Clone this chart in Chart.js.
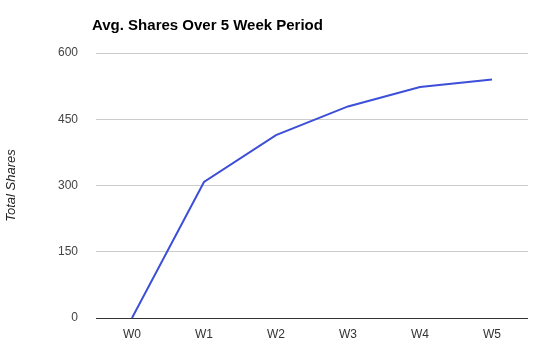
<!DOCTYPE html>
<html>
<head>
<meta charset="utf-8">
<script src="https://cdn.jsdelivr.net/npm/chart.js@4"></script>
<style>
  html, body { margin: 0; padding: 0; background: #fff; }
  .chart-box { width: 549px; height: 360px; }
</style>
</head>
<body>
<div class="chart-box">
  <canvas id="sharesChart" width="549" height="360"></canvas>
</div>
<script>
const weeks = ['W0', 'W1', 'W2', 'W3', 'W4', 'W5'];
const avgShares = [0, 308, 414, 479, 523, 540];
const yTicks = [0, 150, 300, 450, 600];
const chartTitle = 'Avg. Shares Over 5 Week Period';
const yAxisTitle = 'Total Shares';

// draws the bold title at the top left of the plot
const titlePlugin = {
  id: 'leftTitle',
  afterDraw(chart) {
    const ctx = chart.ctx;
    ctx.save();
    ctx.font = 'bold 15px "Liberation Sans", Arial, sans-serif';
    ctx.fillStyle = '#000';
    ctx.textBaseline = 'alphabetic';
    ctx.textAlign = 'left';
    ctx.fillText(chartTitle, chart.chartArea.left - 4, 30);
    ctx.restore();
  }
};

const ctx = document.getElementById('sharesChart').getContext('2d');
new Chart(ctx, {
  type: 'line',
  data: {
    labels: weeks,
    datasets: [{
      label: 'Avg. Shares',
      data: avgShares,
      borderColor: '#3d4fd8',
      backgroundColor: '#3d4fd8',
      borderWidth: 2,
      tension: 0,
      pointRadius: 0,
      fill: false
    }]
  },
  options: {
    responsive: false,
    animation: false,
    layout: { padding: { top: 53, right: 21, left: 0, bottom: 0 } },
    plugins: {
      legend: { display: false },
      tooltip: { enabled: false }
    },
    scales: {
      x: {
        offset: true,
        grid: { display: false, drawTicks: false },
        border: { display: false },
        ticks: {
          color: '#333',
          padding: 9,
          font: { family: '"Liberation Sans", Arial, sans-serif', size: 12 }
        },
        afterFit(scale) { scale.height = 42; }
      },
      y: {
        min: yTicks[0],
        max: yTicks[yTicks.length - 1],
        afterBuildTicks(scale) { scale.ticks = yTicks.map(v => ({ value: v })); },
        grid: {
          drawTicks: false,
          color: c => (c.tick && c.tick.value === 0 ? '#333' : '#ccc'),
          lineWidth: 1
        },
        border: { display: false },
        ticks: {
          color: '#444',
          padding: 18,
          font: { family: '"Liberation Sans", Arial, sans-serif', size: 12 }
        },
        title: {
          display: true,
          text: yAxisTitle,
          color: '#222',
          padding: { top: 4, bottom: 0 },
          font: { family: '"Liberation Sans", Arial, sans-serif', size: 13, style: 'italic' }
        },
        afterFit(scale) { scale.width = 96; }
      }
    }
  },
  plugins: [titlePlugin]
});
</script>
</body>
</html>
